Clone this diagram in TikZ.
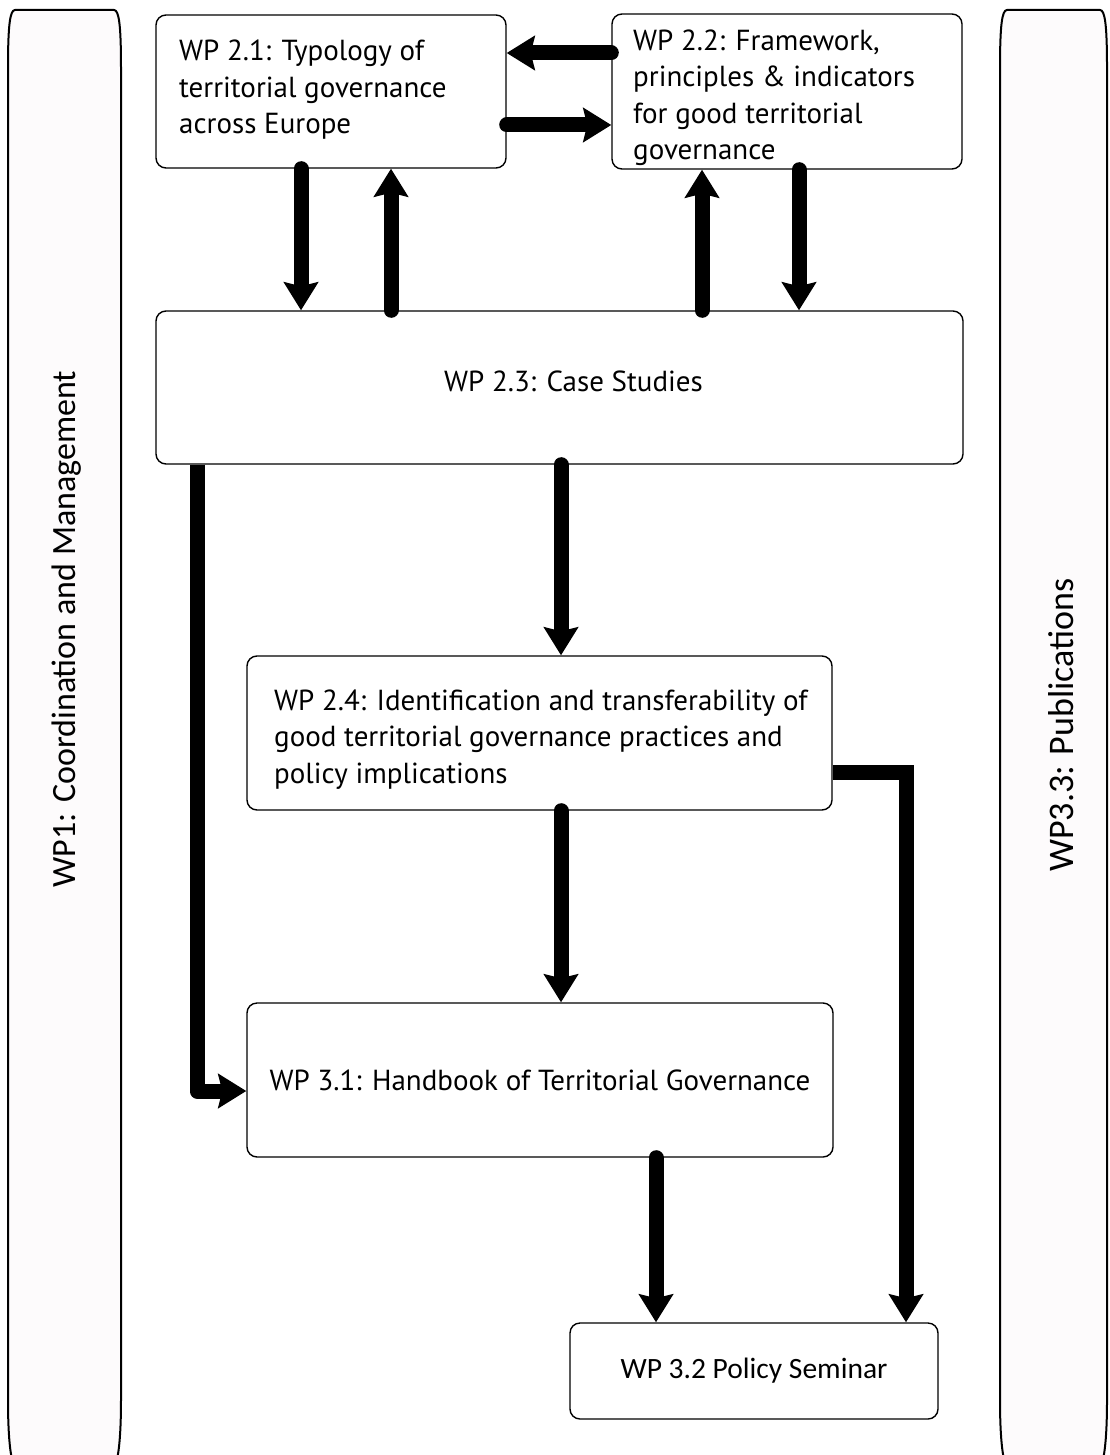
\documentclass[tikz,border=0pt]{standalone}
\usepackage{fontspec}
\setmainfont{PT Sans}
\newfontfamily\calfont{Carlito}
\usetikzlibrary{arrows.meta}
\definecolor{sidefill}{RGB}{253,251,252}
\begin{document}
\begin{tikzpicture}[x=1pt,y=-1pt,
  box/.style={draw, line width=1.4pt, rounded corners=10pt, fill=white, inner sep=0pt},
  txt/.style={align=left, inner sep=0pt, font=\fontsize{29}{36.5}\selectfont},
  ctxt/.style={font=\fontsize{29}{36}\selectfont},
  arr/.style={line width=15pt, line cap=round, -{Stealth[length=28pt,width=34pt,inset=4pt]}},
  elbow/.style={line width=15pt, line cap=butt, -{Stealth[length=28pt,width=34pt,inset=4pt]}},
  side/.style={draw, line width=2pt, fill=sidefill},
  sidetext/.style={rotate=90, anchor=base}
]
\useasboundingbox (0,0) rectangle (1109,1455);
\clip (0,0) rectangle (1109,1455);
\fill[white] (0,0) rectangle (1109,1455);

% side panels
\path[side] (8,1400) -- (8,68) .. controls (8,25) and (10,10) .. (15,10) -- (114,10)
  .. controls (119,10) and (121,25) .. (121,68) -- (121,1400)
  .. controls (121,1440) and (118,1465) .. (113,1468) -- (16,1468)
  .. controls (11,1465) and (8,1440) .. (8,1400) -- cycle;
\path[side] (1000,1400) -- (1000,68) .. controls (1000,25) and (1002,10) .. (1007,10) -- (1100,10)
  .. controls (1105,10) and (1107,25) .. (1107,68) -- (1107,1400)
  .. controls (1107,1440) and (1104,1465) .. (1099,1468) -- (1008,1468)
  .. controls (1003,1465) and (1000,1440) .. (1000,1400) -- cycle;
\node[sidetext, font=\calfont\fontsize{34}{40}\selectfont] (wp1) at (75,629) {WP1: Coordination and Management};
\node[sidetext, font=\calfont\fontsize{36}{40}\selectfont] (wp33) at (1073,725) {WP3.3: Publications};

% boxes
\node[box, minimum width=350pt, minimum height=153pt] (w21) at (331,91.5) {};
\node[box, minimum width=350pt, minimum height=155pt] (w22) at (787,91.5) {};
\node[box, minimum width=807pt, minimum height=153pt, ctxt] (w23) at (559.5,387.5) {\hspace*{28pt}\raisebox{13.5pt}{WP 2.3: Case Studies}};
\node[box, minimum width=585pt, minimum height=154pt] (w24) at (539.5,733) {};
\node[box, minimum width=586pt, minimum height=154pt, ctxt] (w31) at (540,1080) {WP 3.1: Handbook of Territorial Governance};
\node[box, minimum width=368pt, minimum height=96pt, font=\calfont\fontsize{29.5}{34}\selectfont] (w32) at (754,1371) {\raisebox{3pt}{WP 3.2 Policy Seminar}};

\node[txt, anchor=west] (t21) at (179,90) {WP 2.1: Typology of\\territorial governance\\across Europe};
\node[txt, anchor=west] (t22) at (633,98) {WP 2.2: Framework,\\principles \& indicators\\for good territorial\\governance};
\node[txt, anchor=west] (t24) at (274,739.5) {WP 2.4: Identification and transferability of\\good territorial governance practices and\\policy implications};

% connectors
\draw[arr] (w22.west |- 0,53) -- (w21.east |- 0,53);
\draw[arr] (w21.east |- 0,125) -- (w22.west |- 0,125);
\draw[arr] (w21.south -| 301,0) -- (w23.north -| 301,0);
\draw[arr] (w23.north -| 391,0) -- (w21.south -| 391,0);
\draw[arr] (w23.north -| 702,0) -- (w22.south -| 702,0);
\draw[arr] (w22.south -| 799,0) -- (w23.north -| 799,0);
\draw[arr] (w23.south -| 561,0) -- (w24.north -| 561,0);
\draw[arr] (w24.south -| 561,0) -- (w31.north -| 561,0);
\draw[arr] (w31.south -| 656,0) -- (w32.north -| 656,0);
\coordinate (c1) at (197,1091);
\coordinate (c2) at (906,772);
\draw[elbow, line join=round] (w23.south -| c1) -- (c1) -- (w31.west |- c1);
\draw[elbow, line join=miter] (w24.east |- c2) -- (c2) -- (w32.north -| c2);
\end{tikzpicture}
\end{document}
